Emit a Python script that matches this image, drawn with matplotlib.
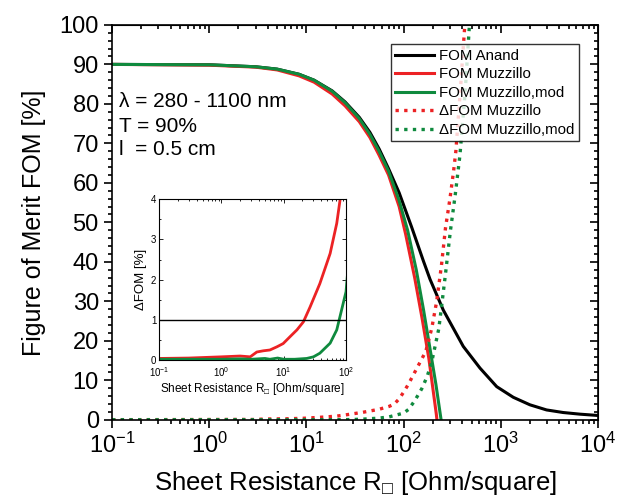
import matplotlib
matplotlib.use("Agg")
import matplotlib.pyplot as plt
from matplotlib.ticker import MultipleLocator, LogLocator, NullFormatter

plt.rcParams["font.family"] = ["Liberation Sans", "DejaVu Sans"]
plt.rcParams["mathtext.fontset"] = "custom"
plt.rcParams["mathtext.rm"] = "Liberation Sans"
plt.rcParams["mathtext.it"] = "Liberation Sans:italic"
plt.rcParams["mathtext.bf"] = "Liberation Sans:bold"
plt.rcParams["mathtext.fallback"] = "stixsans"
plt.rcParams["axes.unicode_minus"] = False

RED = "#ec2224"
GREEN = "#0f8a3e"

# FOM curves (R in Ohm/square, FOM in %)
anand_R = [0.1, 1, 3, 5, 8.4, 12, 18.4, 25, 35, 45, 56, 70, 90, 121, 160, 187, 256, 411, 611, 908,
           1346, 1995, 2960, 4380, 6530, 10000]
anand_fom = [90, 89.9, 89.4, 88.8, 87.5, 86, 83.3, 80.5, 76.6, 72.8, 68.6, 63.6, 57.5, 48.8, 40.2, 35.6, 27.8,
             18.6, 13.1, 8.4, 5.7, 3.8, 2.5, 1.85, 1.43, 1.1]

muz_R = [0.1, 1, 3, 5, 8.4, 12, 18.4, 25, 35, 45, 56, 70, 90, 105, 130, 155, 182, 200, 217, 225]
muz_fom = [90, 89.8, 89.3, 88.6, 87.1, 85.5, 82.5, 79.5, 75.5, 71.5, 67, 62, 54, 47, 36, 25.7, 15.5, 8, 1.5, -2]

mod_R = [0.1, 1, 3, 5, 8.4, 12, 18.4, 25, 35, 45, 56, 70, 90, 110, 135, 160, 190, 215, 235, 250]
mod_fom = [90, 89.9, 89.4, 88.8, 87.5, 86, 83.2, 80.3, 76.3, 72.3, 68, 63, 55.5, 48, 38, 28, 17, 9, 2.5, -2]

# Delta FOM (%)
dmuz_R = [0.1, 0.3, 1, 2, 2.9, 3.7, 4.7, 6, 7.8, 9.8, 13, 16.3, 20.7, 26.5, 38, 49, 55.6, 71, 80, 90, 100,
          112, 140, 169, 195, 219, 245, 270, 300, 327, 345, 385, 424, 445]
dmuz = [0.04, 0.05, 0.08, 0.1, 0.08, 0.2, 0.23, 0.25, 0.33, 0.41, 0.6, 0.75, 0.95, 1.32, 1.9, 2.4, 2.65, 3.4, 3.97, 5.3, 7,
        9.0, 13.5, 17.3, 23.2, 30, 39, 48.6, 56, 63, 68, 84, 99, 107]

dmod_R = [0.1, 1, 2, 3, 5, 6, 8, 10, 15, 23.4, 30, 38, 55.6, 71, 80, 100, 112, 130, 154, 175, 195, 230, 244,
          270, 303, 340, 380, 430, 476, 500]
dmod = [0.02, 0.02, 0.03, 0.02, 0.04, 0.02, 0.05, 0.02, 0.02, 0.04, 0.08, 0.17, 0.42, 0.75, 1.08, 1.7, 2.6, 4.8, 7.9,
        11, 14.7, 23, 28, 37, 47.8, 57, 67, 83, 100, 108]

xlab = "Sheet Resistance R$_{\u25a1}$ [Ohm/square]"

fig = plt.figure(figsize=(6.19, 4.98), dpi=100)
ax = fig.add_axes([0.181, 0.157, 0.785, 0.793])

ax.plot(anand_R, anand_fom, color="k", lw=2.2, label="FOM Anand")
ax.plot(muz_R, muz_fom, color=RED, lw=2.2, label="FOM Muzzillo")
ax.plot(mod_R, mod_fom, color=GREEN, lw=2.2, label="FOM Muzzillo,mod")
ax.plot(dmuz_R, dmuz, color=RED, lw=2.4, ls=(0, (1, 1.6)), label="\u0394FOM Muzzillo")
ax.plot(dmod_R, dmod, color=GREEN, lw=2.4, ls=(0, (1, 1.6)), label="\u0394FOM Muzzillo,mod")

ax.set_xscale("log")
ax.set_xlim(0.1, 1e4)
ax.set_ylim(0, 100)
ax.yaxis.set_major_locator(MultipleLocator(10))
ax.yaxis.set_minor_locator(MultipleLocator(2))
ax.xaxis.set_major_locator(LogLocator(base=10, numticks=10))
ax.xaxis.set_minor_locator(LogLocator(base=10, subs=range(2, 10), numticks=20))
ax.xaxis.set_minor_formatter(NullFormatter())
ax.tick_params(which="both", direction="out", labelsize=17, width=1.2)
ax.tick_params(which="major", length=6)
ax.tick_params(which="minor", length=3)
ax.set_xlabel(xlab, fontsize=18.5, labelpad=8)
ax.set_ylabel("Figure of Merit FOM [%]", fontsize=18, labelpad=10)
for s in ax.spines.values():
    s.set_linewidth(1.2)

# top / right ticks pointing inward
top = ax.secondary_xaxis("top")
top.xaxis.set_major_locator(LogLocator(base=10, numticks=10))
top.xaxis.set_minor_locator(LogLocator(base=10, subs=range(2, 10), numticks=20))
top.tick_params(which="both", direction="in", labeltop=False, width=1.2)
top.tick_params(which="major", length=6)
top.tick_params(which="minor", length=3)
right = ax.secondary_yaxis("right")
right.yaxis.set_major_locator(MultipleLocator(10))
right.yaxis.set_minor_locator(MultipleLocator(2))
right.tick_params(which="both", direction="in", labelright=False, width=1.2)
right.tick_params(which="major", length=6)
right.tick_params(which="minor", length=3)

leg = ax.legend(loc="upper right", bbox_to_anchor=(0.96, 0.951), fontsize=10.8, frameon=True,
                fancybox=False, edgecolor="k", handlelength=2.6, handletextpad=0.3,
                labelspacing=0.3, borderpad=0.3, borderaxespad=0)
leg.get_frame().set_linewidth(1.0)

ax.text(0.015, 0.807, "\u03bb = 280 - 1100 nm", transform=ax.transAxes, fontsize=15, va="center")
ax.text(0.015, 0.742, "T = 90%", transform=ax.transAxes, fontsize=15, va="center")
ax.text(0.015, 0.684, "l  = 0.5 cm", transform=ax.transAxes, fontsize=15, va="center")

# inset
ins = fig.add_axes([0.257, 0.277, 0.302, 0.323])
ins.plot(dmuz_R, dmuz, color=RED, lw=2)
ins.plot(dmod_R, dmod, color=GREEN, lw=2)
ins.axhline(1, color="k", lw=1)
ins.set_xscale("log")
ins.set_xlim(0.1, 100)
ins.set_ylim(0, 4)
ins.yaxis.set_major_locator(MultipleLocator(1))
ins.yaxis.set_minor_locator(MultipleLocator(0.5))
ins.xaxis.set_major_locator(LogLocator(base=10, numticks=10))
ins.xaxis.set_minor_locator(LogLocator(base=10, subs=range(2, 10), numticks=20))
ins.xaxis.set_minor_formatter(NullFormatter())
ins.tick_params(which="both", direction="in", top=True, right=True, labelsize=7, width=0.6)
ins.tick_params(axis="x", pad=4)
ins.tick_params(axis="y", pad=2)
ins.tick_params(which="major", length=3)
ins.tick_params(which="minor", length=1.5)
ins.set_xlabel(xlab, fontsize=8.5, labelpad=1)
ins.set_ylabel("\u0394FOM [%]", fontsize=9.5, labelpad=3)
for s in ins.spines.values():
    s.set_linewidth(0.8)

fig.savefig("out.png", dpi=100)
